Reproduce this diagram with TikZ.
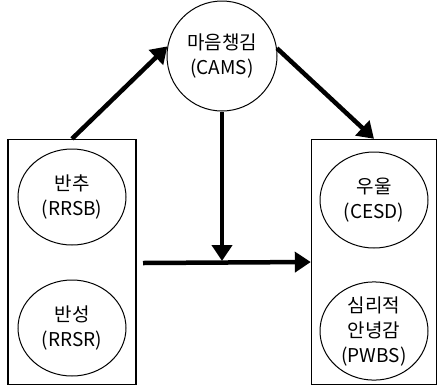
\documentclass[tikz,border=0pt]{standalone}
\usepackage{fontspec}
\setmainfont{Noto Sans CJK KR}
\usepackage{tikz}
\usetikzlibrary{arrows.meta}
\usetikzlibrary{shapes.geometric}
\tikzset{group/.style = {draw, line width=1.4pt, minimum width=128pt, minimum height=245pt}}
\tikzset{var/.style = {draw, ellipse, line width=1pt, align=center, text centered, inner sep=0pt, minimum width=108pt, minimum height=96pt}}
\tikzset{med/.style = {draw, circle, line width=1pt, align=center, text centered, inner sep=0pt, minimum size=110pt}}
\tikzset{arr/.style = {line width=4.5pt, -{Triangle[length=16pt, width=20pt]}}}

\begin{document}
\begin{tikzpicture}[x=1pt, y=-1pt,
  font=\fontsize{19}{25}\selectfont
]
\useasboundingbox (0,0) rectangle (438,386);

\node[group] (xbox) at (72,262) {};
\node[group, minimum width=125pt] (ybox) at (374,262) {};
\node[med] (cams) at (222,56) {마음챙김\\(CAMS)};
\node[var] (rrsb) at (72,197) {반추\\(RRSB)};
\node[var] (rrsr) at (72,328) {반성\\(RRSR)};
\node[var] (cesd) at (374,200) {우울\\(CESD)};
\node[var] (pwbs) at (374,331) {심리적\\안녕감\\(PWBS)};
% free ends of the moderation path
\coordinate (h0) at (143,263);
\coordinate (m0) at (222,261);

\draw[arr]  (xbox.north) -- (cams.170);
\draw[arr]  (cams.8) -- (ybox.north);
\draw[arr]  (cams.south) -- (m0);
\draw[arr]  (h0) -- (ybox.west);

\end{tikzpicture}
\end{document}
